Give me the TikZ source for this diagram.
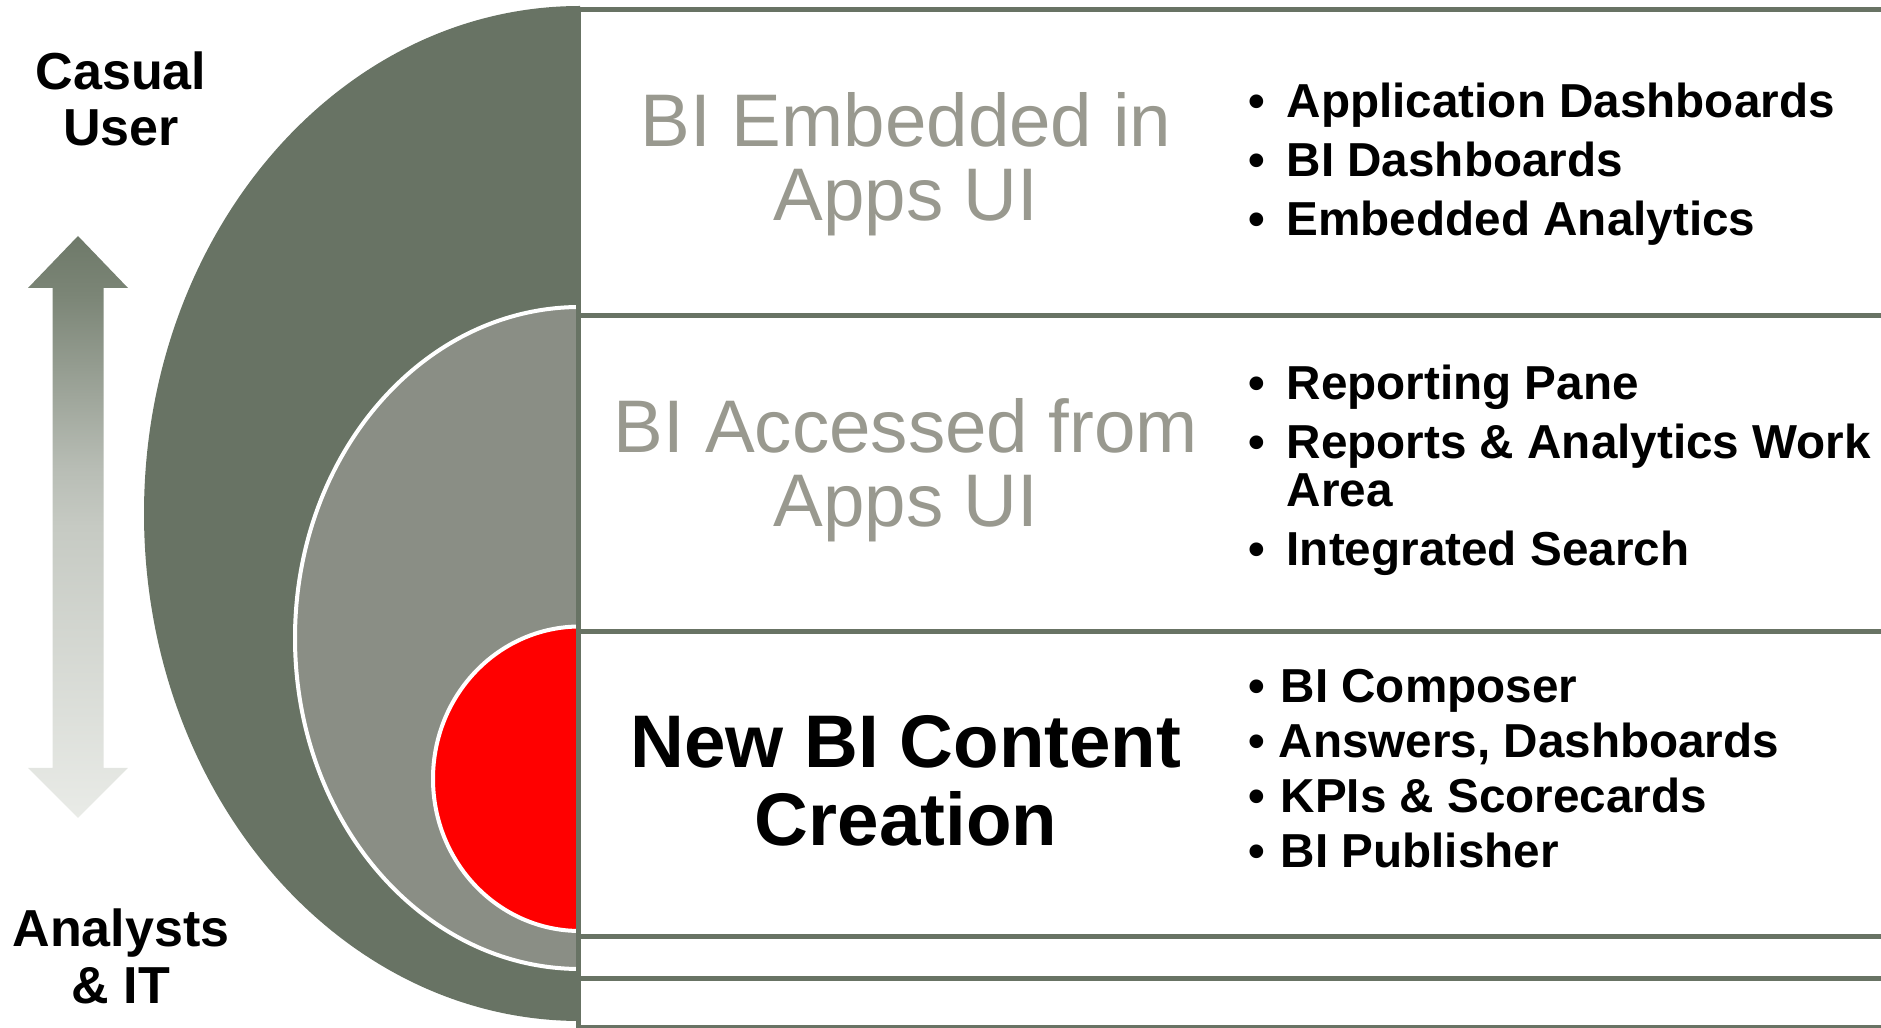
\documentclass[tikz,border=0pt]{standalone}
\usepackage{fontspec}
\setmainfont{Liberation Sans}
\definecolor{dark}{RGB}{104,115,100}
\definecolor{midgrey}{RGB}{138,142,133}
\definecolor{titlegrey}{RGB}{153,153,143}
\definecolor{ashA}{RGB}{233,235,231}
\definecolor{ashB}{RGB}{198,202,195}
\definecolor{ashC}{RGB}{184,189,181}
\definecolor{ashD}{RGB}{123,133,118}
\definecolor{ashE}{RGB}{110,121,105}
\pgfdeclareverticalshading{arrowshade}{100bp}{color(0bp)=(ashA); color(25bp)=(ashA); color(50bp)=(ashB); color(55bp)=(ashC); color(70bp)=(ashD); color(75bp)=(ashE); color(100bp)=(ashE)}
\tikzset{
  boxline/.style={draw=dark, line width=0.05cm},
  ttl/.style={font=\fontsize{21.2}{21}\selectfont, text=titlegrey, inner sep=0pt, anchor=base},
  ttlbold/.style={font=\bfseries\fontsize{21.2}{21}\selectfont, text=black, inner sep=0pt, anchor=base},
  side/.style={font=\bfseries\fontsize{14.8}{15}\selectfont, inner sep=0pt, anchor=base},
  bul/.style={font=\bfseries\fontsize{13.55}{14}\selectfont, inner sep=0pt, anchor=base},
  item/.style={font=\bfseries\fontsize{13.55}{14}\selectfont, inner sep=0pt, anchor=base west},
}
\begin{document}
\begin{tikzpicture}[x=0.01cm,y=-0.01cm]
\useasboundingbox (0,0) rectangle (1881,1028);
\clip (0,0) rectangle (1881,1028);
% gradient double arrow
\shade[shading=arrowshade] (78,236) -- (128,288) -- (103.5,288) -- (103.5,768) -- (128,768) -- (78,818) -- (28,768) -- (52.5,768) -- (52.5,288) -- (28,288) -- cycle;
% nested half ellipses
\begin{scope}
  \clip (0,0) rectangle (580,1028);
  \fill[dark] (580,513.5) ellipse [x radius=436, y radius=507.5];
  \filldraw[fill=midgrey, draw=white, line width=0.04cm] (580,638) ellipse [x radius=285, y radius=331];
  \filldraw[fill=red, draw=white, line width=0.04cm] (580,778.75) ellipse [x radius=147, y radius=152.25];
\end{scope}
% boxes
\draw[boxline] (578.5,9.5) rectangle (1978.5,315.5);
\draw[boxline] (578.5,315.5) rectangle (1978.5,631.5);
\draw[boxline] (578.5,631.5) rectangle (1978.5,937);
\draw[boxline] (578.5,937) rectangle (1978.5,978.5);
\draw[boxline] (578.5,978.5) rectangle (1978.5,1028);
% side labels
\node[side] (cu1) at (121,90) {Casual};
\node[side] (cu2) at (121,146) {User};
\node[side] (ai1) at (121,947) {Analysts};
\node[side] (ai2) at (121,1004) {\& IT};
% titles
\node[ttl] (t1a) at (906,147) {BI Embedded in};
\node[ttl] (t1b) at (906,221) {Apps UI};
\node[ttl] (t2a) at (906,453) {BI Accessed from};
\node[ttl] (t2b) at (906,527) {Apps UI};
\node[ttlbold] (t3a) at (906,768) {New BI Content};
\node[ttlbold] (t3b) at (906,846) {Creation};
% list 1
\node[bul] (b11) at (1257,118) {•};
\node[item] (l11) at (1286,118) {Application Dashboards};
\node[bul] (b12) at (1257,177) {•};
\node[item] (l12) at (1286,177) {BI Dashboards};
\node[bul] (b13) at (1257,236) {•};
\node[item] (l13) at (1286,236) {Embedded Analytics};
% list 2
\node[bul] (b21) at (1257,400) {•};
\node[item] (l21) at (1286,400) {Reporting Pane};
\node[bul] (b22) at (1257,459) {•};
\node[item] (l22) at (1286,459) {Reports \& Analytics Work};
\node[item] (l22b) at (1286,507) {Area};
\node[bul] (b23) at (1257,566) {•};
\node[item] (l23) at (1286,566) {Integrated Search};
% list 3
\node[bul] (b31) at (1257,703) {•};
\node[item] (l31) at (1280,703) {BI Composer};
\node[bul] (b32) at (1257,758) {•};
\node[item] (l32) at (1278,758) {Answers, Dashboards};
\node[bul] (b33) at (1257,813) {•};
\node[item] (l33) at (1280,813) {KPIs \& Scorecards};
\node[bul] (b34) at (1257,868) {•};
\node[item] (l34) at (1280,868) {BI Publisher};
\end{tikzpicture}
\end{document}
